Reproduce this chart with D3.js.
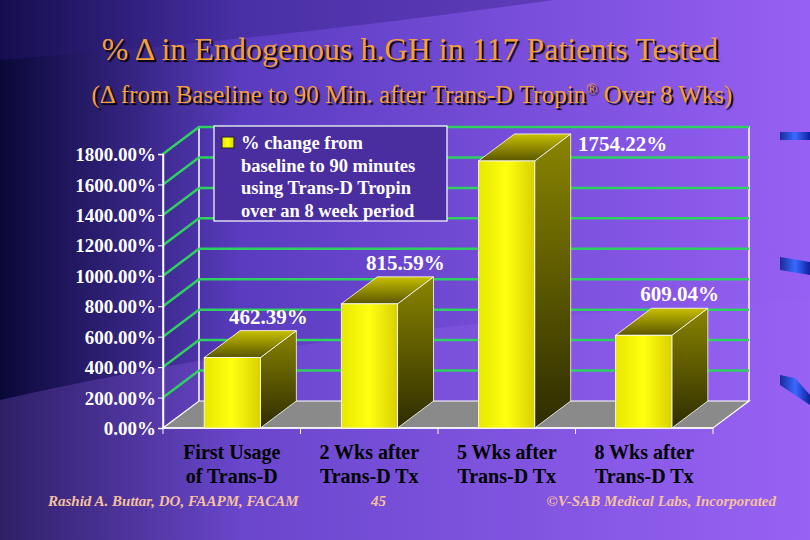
<!DOCTYPE html>
<html><head><meta charset="utf-8">
<script src="https://cdn.jsdelivr.net/npm/d3@7"></script>
<style>body{margin:0;overflow:hidden}svg{display:block}text{font-family:"Times New Roman",Times,"Liberation Serif","DejaVu Serif","Noto Serif",serif}</style>
</head><body>
<svg width="810" height="540"></svg>
<script>
var categories = [["First Usage", "of Trans-D"], ["2 Wks after", "Trans-D Tx"], ["5 Wks after", "Trans-D Tx"], ["8 Wks after", "Trans-D Tx"]];
var values = [462.39, 815.59, 1754.22, 609.04];
var ticks = [0, 200, 400, 600, 800, 1000, 1200, 1400, 1600, 1800];

var svg = d3.select("svg");
var defs = svg.append("defs");

// background
var bg = defs.append("linearGradient").attr("id", "bg").attr("x1", 0).attr("x2", 1).attr("y1", 0).attr("y2", 0);
bg.append("stop").attr("offset", 0).attr("stop-color", "#0a0838");
bg.append("stop").attr("offset", 0.3).attr("stop-color", "#5a3cc0");
bg.append("stop").attr("offset", 1).attr("stop-color", "#9760f4");
svg.append("rect").attr("width", 810).attr("height", 540).attr("fill", "url(#bg)");
svg.append("path").attr("d", "M0,60 Q400,30 810,-40 L810,0 L0,0Z").attr("fill", "#2a1a78").attr("opacity", 0.35);
svg.append("path").attr("d", "M0,400 Q350,320 810,300 L810,540 L0,540Z").attr("fill", "#9a66f5").attr("opacity", 0.25);

// side decorations
var blu = defs.append("linearGradient").attr("id", "blu").attr("x1", 0).attr("x2", 1);
blu.append("stop").attr("offset", 0).attr("stop-color", "#1a2a9a");
blu.append("stop").attr("offset", 0.5).attr("stop-color", "#3a6aff");
blu.append("stop").attr("offset", 1).attr("stop-color", "#1020a0");
["M780,132 L810,132 L810,140 L780,140Z", "M780,257 L810,262 L810,275 L780,270Z", "M780,375 L795,378 L810,395 L810,405 L780,385Z"]
  .forEach(function (d) { svg.append("path").attr("fill", "url(#blu)").attr("d", d); });

// titles
svg.append("text").attr("x", 410).attr("y", 60).attr("text-anchor", "middle")
  .attr("font-size", 32).attr("fill", "#f2a03c")
  .style("text-shadow", "2px 2px 1px #000").text("% Δ in Endogenous h.GH in 117 Patients Tested");
var st = svg.append("text").attr("x", 412).attr("y", 103).attr("text-anchor", "middle")
  .attr("font-size", 25).attr("fill", "#f2a03c")
  .style("text-shadow", "2px 2px 1px #000");
st.append("tspan").text("(Δ from Baseline to 90 Min. after Trans-D Tropin");
st.append("tspan").attr("font-size", 15).attr("dy", -9).text("®");
st.append("tspan").attr("dy", 9).text(" Over 8 Wks)");

// chart geometry
var x0 = 163, x1 = 713, baseY = 428, dx = 36, dy = -27;
var y = d3.scaleLinear().domain([0, 1800]).range([baseY, 154]);
var x = d3.scaleBand().domain(d3.range(4)).range([x0, x1]).paddingInner(0.59).paddingOuter(0.3);

// floor and walls
svg.append("path").attr("fill", "#8a8a8a").attr("stroke", "#fff").attr("stroke-width", 1.2)
  .attr("d", "M" + x0 + "," + baseY + "L" + x1 + "," + baseY + "L" + (x1 + dx) + "," + (baseY + dy) + "L" + (x0 + dx) + "," + (baseY + dy) + "Z");
svg.append("path").attr("fill", "none").attr("stroke", "#fff").attr("stroke-width", 1.5)
  .attr("d", "M" + (x0 + dx) + "," + (baseY + dy) + "V" + (y(1800) + dy) + "H" + (x1 + dx) + "V" + (baseY + dy));
svg.append("path").attr("fill", "none").attr("stroke", "#fff").attr("stroke-width", 1.5)
  .attr("d", "M" + x0 + "," + baseY + "V" + y(1800) + "L" + (x0 + dx) + "," + (y(1800) + dy));

// gridlines
var grid = ticks.filter(function (t) { return t > 0; });
svg.selectAll(".gh").data(grid).enter().append("line")
  .attr("x1", x0 + dx).attr("x2", x1 + dx)
  .attr("y1", function (d) { return y(d) + dy; }).attr("y2", function (d) { return y(d) + dy; })
  .attr("stroke", "#2ed060").attr("stroke-width", 2.5);
svg.selectAll(".gd").data(grid).enter().append("line")
  .attr("x1", x0).attr("x2", x0 + dx)
  .attr("y1", function (d) { return y(d); }).attr("y2", function (d) { return y(d) + dy; })
  .attr("stroke", "#2ed060").attr("stroke-width", 2.5);

// y axis
var yAxis = svg.append("g").attr("transform", "translate(" + x0 + ",0)")
  .call(d3.axisLeft(y).tickValues(ticks).tickSize(5).tickFormat(function (d) { return d3.format(".2f")(d) + "%"; }));
yAxis.attr("font-family", null);
yAxis.select(".domain").attr("stroke", "#fff").attr("stroke-width", 1.5);
yAxis.selectAll("line").attr("stroke", "#fff");
yAxis.selectAll("text").attr("font-weight", "bold")
  .attr("font-size", 19).attr("fill", "#fff").attr("dy", "0.35em").attr("x", -7);

// x axis
var xAxis = svg.append("g").attr("transform", "translate(0," + baseY + ")");
xAxis.append("line").attr("x1", x0).attr("x2", x1).attr("stroke", "#fff").attr("stroke-width", 1.5);
xAxis.selectAll(".xt").data(d3.range(5)).enter().append("line")
  .attr("x1", function (d) { return x0 + d * (x1 - x0) / 4; }).attr("x2", function (d) { return x0 + d * (x1 - x0) / 4; })
  .attr("y1", 0).attr("y2", 6).attr("stroke", "#fff");
var xl = xAxis.selectAll(".xl").data(categories).enter().append("text")
  .attr("text-anchor", "middle").attr("font-weight", "bold")
  .attr("font-size", 20).attr("fill", "#000");
xl.append("tspan").attr("x", function (d, i) { return x0 + (i + 0.5) * (x1 - x0) / 4; }).attr("y", 31).text(function (d) { return d[0]; });
xl.append("tspan").attr("x", function (d, i) { return x0 + (i + 0.5) * (x1 - x0) / 4; }).attr("y", 55).text(function (d) { return d[1]; });

// bar gradients
var gf = defs.append("linearGradient").attr("id", "gf").attr("x1", 0).attr("x2", 1);
gf.append("stop").attr("offset", 0).attr("stop-color", "#e8e800");
gf.append("stop").attr("offset", 0.5).attr("stop-color", "#ffff10");
gf.append("stop").attr("offset", 1).attr("stop-color", "#d8d000");
var gs = defs.append("linearGradient").attr("id", "gs").attr("x1", 0).attr("x2", 0).attr("y1", 0).attr("y2", 1);
gs.append("stop").attr("offset", 0).attr("stop-color", "#8a8500");
gs.append("stop").attr("offset", 1).attr("stop-color", "#2e2c00");
var gt = defs.append("linearGradient").attr("id", "gt").attr("x1", 0).attr("x2", 0).attr("y1", 1).attr("y2", 0);
gt.append("stop").attr("offset", 0).attr("stop-color", "#5a5600");
gt.append("stop").attr("offset", 1).attr("stop-color", "#c8c000");

var bars = svg.selectAll(".bar").data(values).enter().append("g");
bars.append("path").attr("fill", "url(#gs)").attr("stroke", "#fff").attr("stroke-width", 0.8)
  .attr("d", function (d, i) { var a = x(i) + x.bandwidth(), t = y(d);
    return "M" + a + "," + baseY + "V" + t + "l" + dx + "," + dy + "V" + (baseY + dy) + "Z"; });
bars.append("path").attr("fill", "url(#gt)").attr("stroke", "#fff").attr("stroke-width", 0.8)
  .attr("d", function (d, i) { var a = x(i), t = y(d);
    return "M" + a + "," + t + "h" + x.bandwidth() + "l" + dx + "," + dy + "h" + (-x.bandwidth()) + "Z"; });
bars.append("rect").attr("fill", "url(#gf)").attr("stroke", "#fff").attr("stroke-width", 0.8)
  .attr("x", function (d, i) { return x(i); }).attr("width", x.bandwidth())
  .attr("y", function (d) { return y(d); }).attr("height", function (d) { return baseY - y(d); });
bars.append("text").attr("font-weight", "bold").attr("font-size", 21)
  .attr("fill", "#fff").attr("text-anchor", "middle")
  .attr("x", function (d, i) { return i == 2 ? x(i) + x.bandwidth() + dx + 52 : x(i) + x.bandwidth() / 2 + dx; })
  .attr("y", function (d, i) { return i == 2 ? y(1800) + dy + 24 : y(d) + dy - 7; })
  .text(function (d) { return d3.format(".2f")(d) + "%"; });

// legend
var lg = svg.append("g");
lg.append("rect").attr("x", 214).attr("y", 126).attr("width", 233).attr("height", 95)
  .attr("fill", "#4a2ea0").attr("stroke", "#fff").attr("stroke-width", 1.2);
lg.append("rect").attr("x", 222).attr("y", 137).attr("width", 12).attr("height", 11)
  .attr("fill", "url(#gf)").attr("stroke", "#222");
["% change from", "baseline to 90 minutes", "using Trans-D Tropin", "over an 8 week period"].forEach(function (t, i) {
  lg.append("text").attr("x", 241).attr("y", 149 + i * 22.5)
    .attr("font-weight", "bold").attr("font-size", 18.5).attr("fill", "#fff").text(t);
});

// footer
function foot(xx, t, anchor) {
  svg.append("text").attr("x", xx).attr("y", 506).attr("text-anchor", anchor)
    .attr("font-style", "italic").attr("font-weight", "bold").attr("font-size", 15).attr("fill", "#f4c0a0").text(t);
}
foot(48, "Rashid A. Buttar, DO, FAAPM, FACAM", "start");
foot(371, "45", "start");
foot(776, "©V-SAB Medical Labs, Incorporated", "end");
</script>
</body></html>
